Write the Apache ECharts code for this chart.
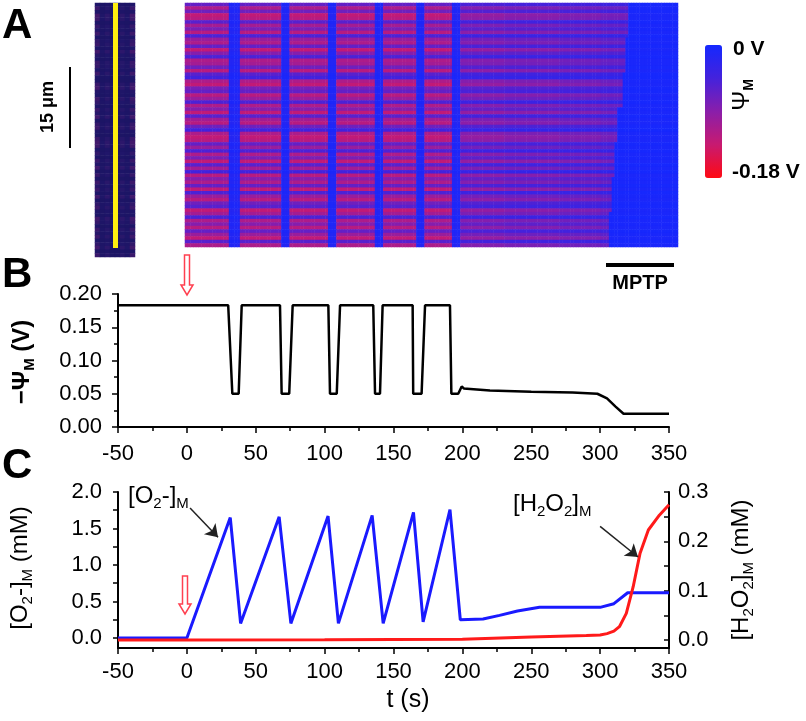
<!DOCTYPE html>
<html><head><meta charset="utf-8">
<script src="https://cdn.jsdelivr.net/npm/echarts@6/dist/echarts.min.js"></script>
<style>html,body{margin:0;padding:0;background:#fff}#c{width:806px;height:721px}</style>
</head><body><div id="c"></div>
<script>
// ---------- Panel B: -Psi_M trace (V) ----------
const psiT = [-50, 30, 33, 37.6, 39.8, 67.6, 68.8, 74.3, 76.8, 102.7, 103.9, 108.8, 111.2, 135.3, 136.6, 140.2, 142.1, 163.9, 164.3, 170.4, 172.9, 191, 192, 197, 199.5, 201, 220, 250, 280, 298, 305, 311, 317, 350];
const psiV = [0.183, 0.183, 0.05, 0.05, 0.183, 0.183, 0.05, 0.05, 0.183, 0.183, 0.05, 0.05, 0.183, 0.183, 0.05, 0.05, 0.183, 0.183, 0.05, 0.05, 0.183, 0.183, 0.05, 0.05, 0.061, 0.058, 0.055, 0.053, 0.052, 0.050, 0.043, 0.031, 0.020, 0.020];
// ---------- Panel C: [O2-]M (mM) ----------
const o2T = [-50, 0, 31.5, 39, 67, 75.5, 102.5, 110, 134.5, 142.5, 164.5, 171.5, 191, 198.5, 215, 227, 240, 256, 300, 310, 320, 350];
const o2V = [0, 0, 1.65, 0.2, 1.66, 0.2, 1.67, 0.2, 1.68, 0.2, 1.72, 0.22, 1.76, 0.25, 0.26, 0.31, 0.37, 0.42, 0.42, 0.47, 0.62, 0.62];
// ---------- Panel C: [H2O2]M (mM) ----------
const h2T = [-50, 0, 100, 150, 200, 250, 290, 300, 305, 310, 314, 319, 324, 329, 335, 343, 350];
const h2V = [0, 0, 0.0005, 0.001, 0.0015, 0.006, 0.009, 0.01, 0.013, 0.018, 0.027, 0.054, 0.108, 0.176, 0.223, 0.253, 0.274];
// ---------- Panel A: line-scan image ----------
const rowPattern = [0.45,0.8,0.5,0.9,0.85,0.4,0.75,0.55,0.85,0.35,0.7,0.8,0.45,0.9,0.6,0.35,0.8,0.75,0.5,0.85,0.4,0.3,0.8,0.9,0.55,0.45,0.85,0.7,0.35,0.8,0.6,0.9,0.4,0.75,0.85,0.5,0.3,0.8,0.9,0.85,0.45,0.7,0.35,0.8,0.55,0.9,0.4,0.75,0.3,0.85,0.6,0.8,0.45,0.9,0.35,0.7,0.85,0.5,0.4,0.9,0.75,0.35,0.8,0.6,0.85,0.45,0.7,0.9,0.4,0.8];
const heatSegT = [-2, 31, 37.5, 67.5, 73.5, 102.5, 109, 136.5, 142, 166.5, 172.5, 192.5, 199, 230, 270, 300];
const heatSegL = [0.8, 0.1, 0.8, 0.1, 0.8, 0.1, 0.8, 0.1, 0.8, 0.1, 0.8, 0.1, 0.6, 0.56, 0.52, 0.48];
const mptpOnset = [321, 318, 316, 313, 311, 308, 306];
const heatCols = []; for (let t = -1; t <= 355; t += 2) heatCols.push(t);
const smallCols = [0,1,2,3,4,5,6,7];
const smallColPattern = [0.35,0.15,0.25,0.1,0.1,0.25,0.15,0.35];

function levelAt(t){ let l = heatSegL[0]; for (let i=0;i<heatSegT.length;i++){ if (t>=heatSegT[i]) l = heatSegL[i]; } return l; }
const heatData = [];
const nR = rowPattern.length;
for (let r=0;r<nR;r++){
  const g = Math.min(mptpOnset.length-1, Math.floor(r/nR*mptpOnset.length));
  for (let c=0;c<heatCols.length;c++){
    const t = heatCols[c];
    let lv = levelAt(t);
    if (t >= mptpOnset[g]) lv = 0.04;
    heatData.push([c, r, +(lv*rowPattern[r]).toFixed(3)]);
  }
}
const smallData = [];
for (let r=0;r<nR;r++) for (let c=0;c<smallCols.length;c++) smallData.push([c, r, +(rowPattern[r]*smallColPattern[c]).toFixed(3)]);
const rowsCat = rowPattern.map((_,i)=>i);
const zip = (a,b)=>a.map((v,i)=>[v,b[i]]);

const FF = 'Liberation Sans, Arial, sans-serif';
const lab = {fontSize:22, color:'#000', fontFamily:FF};
function xAxisVal(gi, margin){
  return {type:'value', gridIndex:gi, min:-50, max:350, interval:50,
    axisLine:{show:true, onZero:false, lineStyle:{color:'#000', width:2}},
    axisTick:{show:true, length:6, lineStyle:{color:'#000', width:1.5}},
    minorTick:{show:true, splitNumber:2, length:4, lineStyle:{color:'#000', width:1.5}},
    splitLine:{show:false}, axisLabel:Object.assign({margin:margin}, lab)};
}
function redArrow(cx, top, bottom){
  const sw=2.5, hw=6, hh=10;
  return {type:'polygon', shape:{points:[[cx-sw,top],[cx+sw,top],[cx+sw,bottom-hh],[cx+hw,bottom-hh],[cx,bottom],[cx-hw,bottom-hh],[cx-sw,bottom-hh]]},
    style:{fill:'#fff', stroke:'#ff4050', lineWidth:1.5}, z:100};
}
const subRich = {a:{fontSize:24, fontFamily:FF, color:'#000', lineHeight:30, verticalAlign:'middle'},
                 s:{fontSize:15, fontFamily:FF, color:'#000', lineHeight:18, verticalAlign:'bottom'}};
const subRichB = {a:{fontSize:24, fontWeight:'bold', fontFamily:FF, color:'#000', lineHeight:30, verticalAlign:'middle'},
                 s:{fontSize:15, fontWeight:'bold', fontFamily:FF, color:'#000', lineHeight:18, verticalAlign:'bottom'}};

const chart = echarts.init(document.getElementById('c'));
chart.setOption({
  animation:false,
  backgroundColor:'#fff',
  grid:[
    {left:95, top:3, width:40, height:254},
    {left:185, top:3, width:493, height:244},
    {left:118, top:294, width:551, height:133},
    {left:118, top:492, width:551, height:156}
  ],
  xAxis:[
    {type:'category', gridIndex:0, data:smallCols, show:false},
    {type:'category', gridIndex:1, data:heatCols, show:false},
    xAxisVal(2, 16),
    xAxisVal(3, 13)
  ],
  yAxis:[
    {type:'category', gridIndex:0, data:rowsCat, show:false, inverse:true},
    {type:'category', gridIndex:1, data:rowsCat, show:false, inverse:true},
    {type:'value', gridIndex:2, min:0, max:0.2, interval:0.05,
      axisLine:{show:true, onZero:false, lineStyle:{color:'#000', width:2}},
      axisTick:{show:true, length:6, lineStyle:{color:'#000', width:1.5}},
      minorTick:{show:true, splitNumber:2, length:4, lineStyle:{color:'#000', width:1.5}},
      splitLine:{show:false}, axisLabel:Object.assign({margin:16, formatter:v=>v.toFixed(2)}, lab)},
    {type:'value', gridIndex:3, min:-0.137, max:2.0, position:'left',
      axisLine:{show:true, onZero:false, lineStyle:{color:'#000', width:2}},
      axisTick:{show:true, length:5, lineStyle:{color:'#000', width:1.5}, customValues:[0,0.25,0.5,0.75,1,1.25,1.5,1.75,2]},
      splitLine:{show:false}, axisLabel:Object.assign({margin:16, customValues:[0,0.5,1,1.5,2], formatter:v=>v.toFixed(1)}, lab)},
    {type:'value', gridIndex:3, min:-0.0162, max:0.3, position:'right',
      axisLine:{show:true, onZero:false, lineStyle:{color:'#000', width:2}},
      axisTick:{show:true, inside:true, length:5, lineStyle:{color:'#000', width:1.5}, customValues:[0,0.05,0.1,0.15,0.2,0.25,0.3]},
      splitLine:{show:false}, axisLabel:Object.assign({margin:9, customValues:[0,0.1,0.2,0.3], formatter:v=>v.toFixed(1)}, lab)}
  ],
  visualMap:[
    {type:'continuous', seriesIndex:1, min:0, max:1, inverse:true, calculable:false, show:true,
      left:705, top:45, itemWidth:17, itemHeight:133, padding:0, text:null, showLabel:false,
      inRange:{color:['#1428ff','#4422dc','#8a1eaa','#c81a70','#ff0a14']}},
    {type:'continuous', seriesIndex:0, min:0, max:0.35, show:false,
      inRange:{color:['#1a1462','#20166a','#4a1a6c']}}
  ],
  series:[
    {type:'heatmap', xAxisIndex:0, yAxisIndex:0, data:smallData, progressive:0, emphasis:{disabled:true}},
    {type:'heatmap', xAxisIndex:1, yAxisIndex:1, data:heatData, progressive:0, emphasis:{disabled:true}},
    {type:'line', xAxisIndex:2, yAxisIndex:2, data:zip(psiT,psiV), showSymbol:false, lineStyle:{color:'#000', width:2.5}, itemStyle:{color:'#000'}},
    {type:'line', xAxisIndex:3, yAxisIndex:3, data:zip(o2T,o2V), showSymbol:false, lineStyle:{color:'#1a1aff', width:3}, itemStyle:{color:'#1a1aff'},
      markLine:{silent:true, symbol:['none','arrow'], symbolSize:12, label:{show:false}, lineStyle:{color:'#222', width:1.5, type:'solid'},
        data:[[{coord:[2.3,1.78]},{coord:[22.6,1.38]}],[{coord:[300,1.53]},{coord:[327.5,1.11]}]]}},
    {type:'line', xAxisIndex:3, yAxisIndex:4, data:zip(h2T,h2V), showSymbol:false, lineStyle:{color:'#ff1a1a', width:3}, itemStyle:{color:'#ff1a1a'}}
  ],
  graphic:[
    {type:'text', left:2, top:5, style:{text:'A', fontSize:42, fontWeight:'bold', fontFamily:FF, fill:'#000'}},
    {type:'text', left:2, top:254, style:{text:'B', fontSize:42, fontWeight:'bold', fontFamily:FF, fill:'#000'}},
    {type:'text', left:2, top:445, style:{text:'C', fontSize:42, fontWeight:'bold', fontFamily:FF, fill:'#000'}},
    {type:'rect', shape:{x:113, y:3, width:5, height:245}, style:{fill:'#ffee10'}, z:100},
    {type:'rect', shape:{x:69, y:67, width:2, height:81}, style:{fill:'#000'}},
    {type:'text', x:48, y:107, rotation:Math.PI/2, style:{text:'15 μm', fontSize:18, fontWeight:'bold', fontFamily:FF, fill:'#000', align:'center', verticalAlign:'middle'}},
    {type:'text', x:733, y:49, style:{text:'0 V', fontSize:21, fontWeight:'bold', fontFamily:FF, fill:'#000', align:'left', verticalAlign:'middle'}},
    {type:'text', x:732, y:172, style:{text:'-0.18 V', fontSize:21, fontWeight:'bold', fontFamily:FF, fill:'#000', align:'left', verticalAlign:'middle'}},
    {type:'text', x:742, y:95, rotation:Math.PI/2, style:{text:'{a|Ψ}{s|M}', align:'center', verticalAlign:'middle',
      rich:{a:{fontSize:24, fontFamily:FF, fill:'#000', lineHeight:28, verticalAlign:'middle'}, s:{fontSize:14, fontWeight:'bold', fontFamily:FF, fill:'#000', lineHeight:14, verticalAlign:'bottom'}}}},
    {type:'rect', shape:{x:606, y:263, width:68, height:4}, style:{fill:'#000'}},
    {type:'text', x:640, y:283, style:{text:'MPTP', fontSize:20, fontWeight:'bold', fontFamily:FF, fill:'#000', align:'center', verticalAlign:'middle'}},
    redArrow(187, 255, 295),
    redArrow(185, 576, 614),
    {type:'text', x:22, y:362, rotation:Math.PI/2, style:{text:'{a|−Ψ}{s|M}{a| (V)}', align:'center', verticalAlign:'middle', rich:subRichB}},
    {type:'text', x:20, y:568, rotation:Math.PI/2, style:{text:'{a|[O}{s|2}{a|-]}{s|M}{a| (mM)}', align:'center', verticalAlign:'middle', rich:subRich}},
    {type:'text', x:741, y:570, rotation:Math.PI/2, style:{text:'{a|[H}{s|2}{a|O}{s|2}{a|]}{s|M}{a| (mM)}', align:'center', verticalAlign:'middle', rich:subRich}},
    {type:'text', x:128, y:496, style:{text:'{a|[O}{s|2}{a|-]}{s|M}', align:'left', verticalAlign:'middle', rich:subRich}},
    {type:'text', x:513, y:504, style:{text:'{a|[H}{s|2}{a|O}{s|2}{a|]}{s|M}', align:'left', verticalAlign:'middle', rich:subRich}},
    {type:'text', x:408, y:700, style:{text:'t (s)', fontSize:25, fontFamily:FF, fill:'#000', align:'center', verticalAlign:'middle'}}
  ]
});
</script></body></html>
